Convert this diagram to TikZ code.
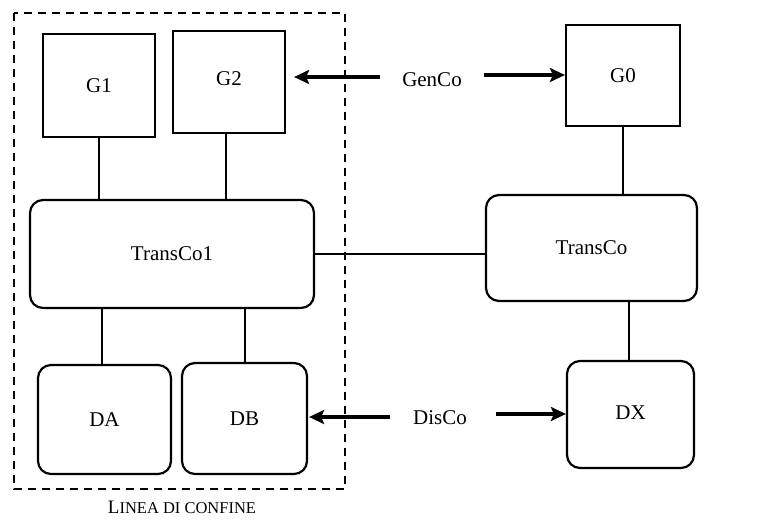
\documentclass[tikz,border=0pt]{standalone}
\usepackage{fontspec}
\setmainfont{Liberation Serif}
\usetikzlibrary{arrows.meta}
\begin{document}
\begin{tikzpicture}[x=1pt,y=-1pt,
  txt/.style={font=\fontsize{21}{25}\selectfont},
  sqbox/.style={draw,line width=2.2pt,inner sep=0pt,txt},
  rbox/.style={draw,line width=2.2pt,rounded corners=13pt,inner sep=0pt,txt},
  link/.style={line width=1.3pt},
  bigarrow/.style={line width=3.6pt,-{Stealth[length=15pt,width=14pt,inset=3pt]}},
  confine/.style={draw,line width=2.3pt,dash pattern=on 8pt off 6pt}]
\useasboundingbox (0,0) rectangle (762,519);
% boundary
\draw[confine] (14,13) rectangle (345,489);
% nodes
\node[sqbox,minimum width=112pt,minimum height=103pt] (G1) at (99,85.5) {G1};
\node[sqbox,minimum width=112pt,minimum height=102pt] (G2) at (229,82) {\raisebox{7pt}{G2}};
\node[sqbox,minimum width=114pt,minimum height=101pt] (G0) at (623,75.5) {G0};
\node[rbox,minimum width=284pt,minimum height=108pt] (T1) at (172,254) {TransCo1};
\node[rbox,minimum width=211pt,minimum height=106pt] (T) at (591.5,248) {TransCo};
\node[rbox,minimum width=133pt,minimum height=109pt] (DA) at (104.5,419.5) {DA};
\node[rbox,minimum width=125pt,minimum height=111pt] (DB) at (244.5,418.5) {DB};
\node[rbox,minimum width=127pt,minimum height=107pt] (DX) at (630.5,414.5) {\raisebox{3pt}{DX}};
\node[txt] (gen) at (432,80) {GenCo};
\node[txt] (dis) at (440,418) {DisCo};
\node (lab) at (182,507) {{\fontsize{19}{22}\selectfont L}{\fontsize{16.5}{20}\selectfont INEA DI CONFINE}};
% links
\draw[link] (G1.south) -- (G1.south |- T1.north);
\draw[link] ([xshift=-3pt]G2.south) -- ([xshift=-3pt]G2.south |- T1.north);
\draw[link] (T1.south -| 102,0) -- (DA.north -| 102,0);
\draw[link] (T1.south -| 245,0) -- (DB.north -| 245,0);
\draw[link] (G0.south) -- (G0.south |- T.north);
\draw[link] ([xshift=-1.5pt]DX.north) -- ([xshift=-1.5pt]DX.north |- T.south);
\draw[link] (T1.east) -- (T1.east -| T.west);
% arrows
\coordinate (gl) at (380,77);
\coordinate (gr) at (484,75);
\coordinate (dl) at (390,417);
\coordinate (dr) at (496,414);
\draw[bigarrow,shorten >=8pt] (gl) -- (gl -| G2.east);
\draw[bigarrow] (gr) -- (gr -| G0.west);
\draw[bigarrow,shorten >=1pt] (dl) -- (dl -| DB.east);
\draw[bigarrow] (dr) -- (dr -| DX.west);
\end{tikzpicture}
\end{document}
